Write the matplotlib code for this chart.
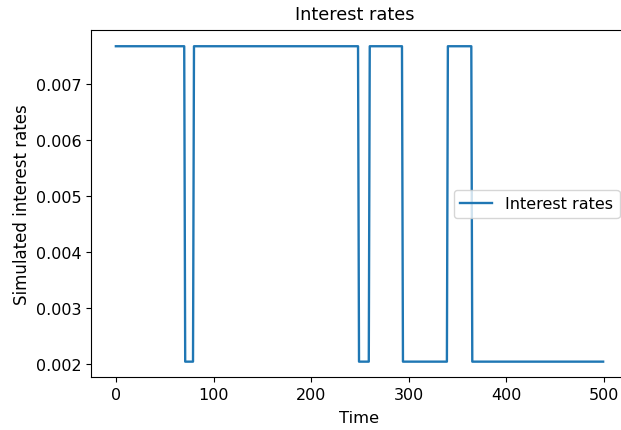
import numpy as np
import matplotlib
matplotlib.use("Agg")
import matplotlib.pyplot as plt

# Regime-switching short rate: two levels, switching at the listed times
rate_levels = [0.00767, 0.00204]
switch_times = [0, 71, 80, 249, 260, 294, 340, 365, 500]
regime_sequence = [0, 1, 0, 1, 0, 1, 0, 1]

seg_lengths = np.diff(switch_times)
rates = np.repeat([rate_levels[r] for r in regime_sequence], seg_lengths)
time = np.arange(len(rates))

fig = plt.figure(figsize=(6.21, 4.31), dpi=100)
# axes run slightly past the right edge of the canvas
ax = fig.add_axes([91.5 / 621, 0.122, 536 / 621, 0.805])
ax.plot(time, rates, label="Interest rates", linewidth=1.7)
ax.set_title("Interest rates", fontsize=12.8, x=0.491, pad=8.5)
ax.set_xlabel("Time", fontsize=11.8, labelpad=5.5)
ax.set_ylabel("Simulated interest rates", fontsize=12)
ax.set_xticks([0, 100, 200, 300, 400, 500])
ax.set_yticks([0.002, 0.003, 0.004, 0.005, 0.006, 0.007])
ax.tick_params(labelsize=11.5)
ax.legend(loc="center right", fontsize=11.5)
fig.savefig("out.png", dpi=100)
